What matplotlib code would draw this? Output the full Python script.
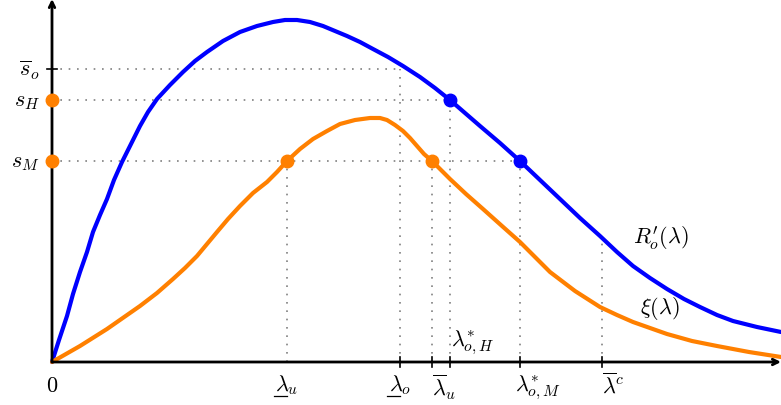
import matplotlib
matplotlib.use('Agg')
import matplotlib.pyplot as plt

plt.rcParams['mathtext.fontset'] = 'cm'
plt.rcParams['font.family'] = 'serif'

# R'_o(lambda) curve
blue_x = [0, 7, 15, 21, 28, 35, 41, 48, 55, 62, 70, 79, 88, 96, 105, 118, 131, 143, 155, 171, 188, 205, 221, 233, 245, 258, 271, 283, 295, 308, 321, 336, 351, 368, 383, 398, 413, 428, 448, 468, 488, 508, 528, 548, 565, 581, 598, 615, 632, 648, 665, 681, 705, 729]
blue_y = [0, 22, 46, 68, 90, 110, 130, 147, 163, 182, 200, 218, 236, 250, 263, 277, 290, 301, 310, 321, 330, 336, 340, 342, 342, 340, 336, 331, 326, 320, 313, 305, 296, 285, 274, 262, 249, 236, 219, 201, 182, 163, 144, 126, 110, 96, 84, 73, 63, 55, 47, 41, 35, 30]

# xi(lambda) curve
orange_x = [0, 28, 55, 88, 105, 121, 133, 145, 155, 165, 176, 188, 201, 215, 225, 235, 248, 261, 275, 288, 303, 318, 328, 335, 343, 351, 358, 365, 372, 380, 389, 398, 414, 431, 450, 468, 483, 498, 523, 548, 565, 581, 598, 615, 640, 665, 697, 729]
orange_y = [0, 16, 33, 56, 69, 83, 94, 106, 118, 130, 143, 156, 169, 180, 190, 201, 213, 223, 231, 238, 242, 244, 244, 242, 237, 231, 224, 216, 208, 201, 192, 183, 168, 153, 136, 120, 105, 90, 71, 55, 47, 40, 34, 28, 21, 16, 10, 5]

s_so, s_H, s_M = 293, 262, 201
x_ticks = [235, 348, 380, 398, 468, 550]
x_labels = [r'$\lambda_u$', r'$\lambda_o$', r'$\overline{\lambda}_u$',
            r'$\lambda_{o,H}^{*}$', r'$\lambda_{o,M}^{*}$', r'$\overline{\lambda}^c$']
underlined = [True, True, False, False, False, False]
blue_dots_x = [398, 468]
blue_dots_y = [s_H, s_M]
orange_dots_x = [235, 380, 0, 0]
orange_dots_y = [s_M, s_M, s_H, s_M]
lam_c_top = 125

fig = plt.figure(figsize=(7.81, 4.06), dpi=100)
ax = fig.add_axes([0, 0, 1, 1])
ax.set_xlim(-52, 729)
ax.set_ylim(-43, 363)
ax.axis('off')

dot = dict(color='gray', linestyle=(0, (1, 4)), linewidth=1.2)
# horizontal guides
ax.plot([0, 348], [s_so, s_so], **dot)
ax.plot([0, 398], [s_H, s_H], **dot)
ax.plot([0, 468], [s_M, s_M], **dot)
# vertical guides
ax.plot([235, 235], [0, s_M], **dot)
ax.plot([348, 348], [0, s_so], **dot)
ax.plot([380, 380], [0, s_M], **dot)
ax.plot([398, 398], [0, s_H], **dot)
ax.plot([468, 468], [0, s_M], **dot)
ax.plot([550, 550], [0, lam_c_top], **dot)

ax.plot(blue_x, blue_y, color='#0000ff', linewidth=3, solid_capstyle='round', solid_joinstyle='round', zorder=3)
ax.plot(orange_x, orange_y, color='#ff8000', linewidth=3, solid_capstyle='round', solid_joinstyle='round', zorder=3)

# axes with arrows
ax.annotate('', xy=(729, 0), xytext=(0, 0),
            arrowprops=dict(arrowstyle='->', color='black', lw=2, shrinkA=0, shrinkB=0), zorder=4)
ax.annotate('', xy=(0, 363), xytext=(0, 0),
            arrowprops=dict(arrowstyle='->', color='black', lw=2, shrinkA=0, shrinkB=0), zorder=4)

# tick marks
for xt in x_ticks[1:]:
    ax.plot([xt, xt], [-5, 5], color='black', linewidth=1.2, zorder=4)
ax.plot([-5, 5], [s_so, s_so], color='black', linewidth=1.2, zorder=4)

ax.plot(blue_dots_x, blue_dots_y, 'o', color='#0000ff', markersize=9, zorder=5)
ax.plot(orange_dots_x, orange_dots_y, 'o', color='#ff8000', markersize=9, zorder=5, clip_on=False)

fs = 16
ax.text(0, -12, r'$0$', ha='center', va='top', fontsize=fs)
label_off = [0, 0, 12, 0, 18, 11]
for xt, lab, off, ul in zip(x_ticks, x_labels, label_off, underlined):
    if xt == 398:
        ax.text(xt + 1, 6, lab, ha='left', va='bottom', fontsize=fs)
    else:
        ax.text(xt + off, -10, lab, ha='center', va='top', fontsize=fs)
    if ul:
        ax.plot([xt - 13, xt], [-34, -34], color='black', linewidth=0.9)

ax.text(-12, s_so, r'$\overline{s}_o$', ha='right', va='center', fontsize=fs)
ax.text(-12, s_H, r'$s_H$', ha='right', va='center', fontsize=fs)
ax.text(-12, s_M, r'$s_M$', ha='right', va='center', fontsize=fs)

ax.text(581, 125, r"$R_o^{\prime}(\lambda)$", ha='left', va='center', fontsize=fs)
ax.text(588, 54, r'$\xi(\lambda)$', ha='left', va='center', fontsize=fs)

fig.savefig('out.png', dpi=100)
